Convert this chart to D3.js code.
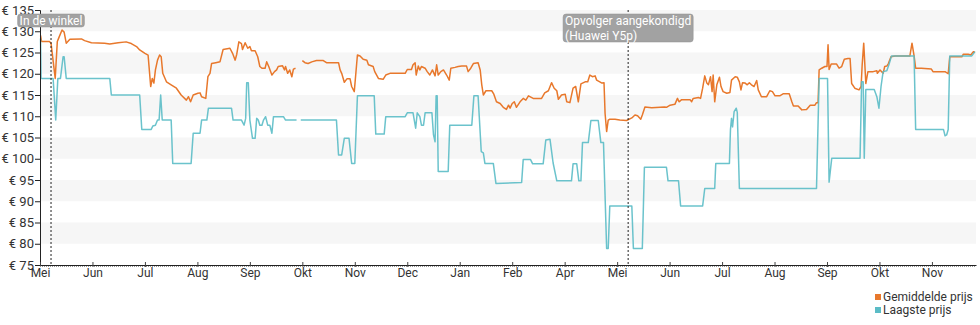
<!DOCTYPE html>
<html><head><meta charset="utf-8">
<script src="https://cdn.jsdelivr.net/npm/d3@7"></script>
<style>body{margin:0;background:#fff;} svg{display:block;font-family:Roboto, "Noto Sans", sans-serif;}</style>
</head><body><svg id="c" width="980" height="325"></svg>
<script>
// month index 0 = "Mei" (first)
const monthLabels = ["Mei","Jun","Jul","Aug","Sep","Okt","Nov","Dec","Jan","Feb","Apr","Mei","Jun","Jul","Aug","Sep","Okt","Nov"];
const priceTicks = [75,80,85,90,95,100,105,110,115,120,125,130,135];
const seriesNames = ["Gemiddelde prijs","Laagste prijs"];
const annotations = [
  {m:0.21, lines:["In de winkel"]},
  {m:11.21, lines:["Opvolger aangekondigd","(Huawei Y5p)"]}
];
// [month, price]
const avgPrice = [
[0.01,129.0],[0.03,127.6],[0.18,127.6],[0.21,127.2],[0.29,118.9],[0.33,127.6],[0.36,128.5],[0.42,130.3],[0.46,129.8],[0.50,127.2],[0.57,128.1],[0.79,128.2],[0.85,127.8],[0.98,127.3],[1.23,127.2],[1.33,127.0],[1.49,127.3],[1.64,127.5],[1.74,127.1],[1.84,126.4],[1.90,125.6],[2.00,124.8],[2.06,124.4],[2.11,117.0],[2.14,118.9],[2.17,117.8],[2.20,120.9],[2.24,123.2],[2.28,124.4],[2.31,124.0],[2.34,120.1],[2.41,118.1],[2.50,117.4],[2.60,116.6],[2.69,115.0],[2.79,113.8],[2.83,114.6],[2.87,113.4],[2.92,115.0],[3.01,115.4],[3.05,115.5],[3.08,114.6],[3.16,114.2],[3.20,119.3],[3.24,120.1],[3.27,122.4],[3.35,122.6],[3.43,122.8],[3.49,125.7],[3.62,126.0],[3.67,124.8],[3.72,123.2],[3.75,124.6],[3.79,127.5],[3.84,127.1],[3.86,125.7],[3.91,127.3],[3.96,126.0],[4.00,126.4],[4.03,125.4],[4.10,125.4],[4.15,124.0],[4.19,121.7],[4.23,121.3],[4.29,121.3],[4.32,122.8],[4.36,121.7],[4.42,119.7],[4.47,120.5],[4.51,120.9],[4.54,121.7],[4.62,121.9],[4.66,120.9],[4.68,121.7],[4.72,120.1],[4.76,120.9],[4.80,119.3],[4.83,121.1],[4.87,121.3],[4.94,null],[5.00,123.1],[5.05,122.6],[5.11,122.4],[5.18,122.8],[5.27,123.1],[5.40,123.1],[5.46,122.6],[5.69,122.6],[5.72,120.9],[5.75,120.1],[5.80,118.0],[5.85,118.8],[5.91,118.8],[5.94,117.0],[5.99,115.8],[6.05,124.4],[6.10,124.2],[6.16,123.4],[6.23,123.2],[6.26,122.1],[6.35,121.7],[6.38,120.5],[6.45,118.9],[6.54,118.7],[6.59,119.7],[6.67,120.1],[6.96,120.1],[7.00,121.0],[7.08,121.0],[7.11,122.1],[7.15,122.6],[7.17,119.7],[7.21,121.8],[7.24,120.9],[7.27,121.7],[7.34,121.3],[7.38,120.5],[7.43,119.7],[7.48,120.9],[7.53,119.5],[7.56,122.1],[7.59,119.7],[7.64,120.5],[7.69,120.9],[7.75,119.7],[7.80,118.5],[7.83,121.3],[7.91,121.5],[7.97,121.7],[8.04,121.8],[8.13,121.8],[8.16,120.5],[8.21,121.3],[8.26,122.4],[8.35,122.6],[8.39,120.9],[8.42,117.4],[8.45,115.0],[8.50,116.0],[8.61,116.0],[8.65,115.2],[8.70,113.4],[8.77,113.0],[8.83,112.1],[8.89,111.6],[8.93,112.6],[8.96,111.9],[9.00,113.0],[9.04,113.4],[9.08,112.1],[9.15,113.4],[9.21,114.2],[9.26,113.8],[9.31,114.8],[9.40,114.2],[9.56,114.2],[9.62,115.5],[9.69,116.0],[9.75,117.9],[9.80,116.6],[9.85,116.0],[9.88,114.0],[9.94,115.0],[10.01,115.2],[10.04,113.4],[10.10,113.2],[10.16,116.6],[10.21,117.0],[10.26,113.4],[10.31,117.6],[10.39,118.1],[10.44,118.1],[10.48,119.7],[10.53,119.3],[10.58,119.5],[10.61,118.5],[10.67,118.1],[10.71,117.8],[10.75,117.9],[10.77,110.7],[10.80,106.4],[10.83,109.1],[10.86,109.3],[10.96,109.3],[11.05,109.1],[11.18,109.0],[11.28,109.6],[11.34,110.3],[11.39,110.1],[11.45,109.3],[11.48,110.3],[11.53,112.2],[11.66,112.0],[11.90,112.2],[11.94,112.1],[12.01,112.6],[12.10,112.8],[12.15,114.2],[12.18,113.4],[12.23,113.9],[12.39,113.9],[12.42,113.4],[12.45,114.2],[12.55,114.4],[12.59,114.2],[12.63,116.6],[12.67,119.5],[12.71,117.8],[12.74,117.4],[12.78,119.3],[12.81,115.8],[12.83,119.7],[12.86,113.4],[12.90,117.4],[12.95,119.2],[12.98,117.0],[13.02,115.8],[13.09,115.4],[13.15,115.6],[13.18,118.5],[13.25,119.3],[13.29,119.2],[13.33,118.1],[13.36,116.2],[13.39,117.9],[13.44,117.8],[13.48,117.4],[13.52,117.9],[13.56,117.4],[13.61,117.0],[13.66,118.4],[13.69,116.2],[13.75,114.6],[13.85,114.6],[13.91,116.0],[13.96,115.8],[14.01,114.8],[14.10,114.8],[14.17,115.3],[14.28,115.3],[14.33,113.4],[14.36,112.4],[14.45,112.4],[14.52,111.5],[14.61,111.6],[14.68,112.6],[14.77,112.6],[14.80,113.2],[14.83,113.2],[14.85,120.9],[14.90,121.3],[14.96,121.7],[15.00,121.7],[15.02,126.8],[15.04,121.0],[15.08,122.3],[15.18,122.3],[15.23,121.3],[15.28,121.7],[15.33,123.4],[15.40,123.6],[15.44,123.6],[15.47,117.7],[15.53,116.6],[15.61,116.2],[15.65,117.0],[15.67,122.0],[15.70,127.2],[15.74,117.7],[15.78,120.5],[15.88,120.5],[15.95,120.7],[15.96,120.1],[16.01,120.9],[16.07,120.1],[16.10,121.7],[16.14,121.8],[16.17,122.4],[16.22,124.0],[16.30,124.2],[16.58,124.2],[16.62,127.2],[16.66,124.2],[16.69,121.3],[16.80,121.3],[16.99,121.1],[17.02,120.5],[17.25,120.5],[17.31,120.0],[17.34,124.0],[17.57,124.0],[17.60,124.6],[17.69,124.6],[17.74,124.4],[17.79,125.2],[17.82,125.0]
];
const lowPrice = [
[0.01,128.3],[0.02,118.9],[0.25,118.9],[0.30,109.1],[0.34,118.9],[0.39,118.9],[0.44,124.0],[0.46,124.0],[0.50,118.9],[1.33,118.9],[1.36,115.0],[1.90,115.0],[1.94,106.9],[2.12,106.9],[2.15,107.7],[2.20,107.9],[2.24,109.1],[2.27,109.1],[2.30,115.0],[2.33,109.1],[2.50,109.1],[2.53,98.9],[2.88,98.9],[2.92,106.0],[3.05,106.0],[3.08,109.1],[3.18,109.1],[3.21,111.9],[3.65,111.9],[3.68,109.1],[3.84,109.1],[3.89,107.9],[3.92,109.5],[3.94,117.9],[3.97,117.9],[4.00,109.1],[4.05,104.8],[4.10,104.8],[4.13,109.5],[4.16,109.1],[4.19,107.9],[4.23,107.9],[4.26,109.1],[4.30,109.9],[4.34,107.9],[4.38,107.9],[4.42,106.0],[4.45,109.9],[4.64,109.9],[4.68,109.1],[4.89,109.1],[4.94,null],[4.97,109.1],[5.65,109.1],[5.69,100.9],[5.75,100.9],[5.80,104.8],[5.89,104.8],[5.94,98.9],[6.00,98.9],[6.05,114.8],[6.37,114.8],[6.40,105.8],[6.56,105.8],[6.59,109.9],[6.96,109.9],[7.00,110.8],[7.11,110.8],[7.16,107.2],[7.19,110.8],[7.24,109.9],[7.27,107.9],[7.31,107.9],[7.34,110.8],[7.47,110.8],[7.50,105.6],[7.53,104.0],[7.55,114.8],[7.57,114.8],[7.59,97.0],[7.78,97.0],[7.81,107.9],[8.23,107.9],[8.27,114.8],[8.35,114.8],[8.41,101.7],[8.45,101.4],[8.48,98.9],[8.64,98.9],[8.69,94.2],[9.18,94.4],[9.21,99.8],[9.35,99.8],[9.39,98.8],[9.59,98.8],[9.64,104.4],[9.72,104.6],[9.78,99.0],[9.85,94.8],[10.13,94.8],[10.16,98.8],[10.23,98.8],[10.27,94.8],[10.31,94.8],[10.34,103.8],[10.45,103.8],[10.50,109.0],[10.64,109.0],[10.69,103.8],[10.74,103.8],[10.80,78.9],[10.83,78.9],[10.86,88.9],[11.28,88.9],[11.31,78.9],[11.48,78.9],[11.52,98.0],[11.94,98.0],[11.97,94.8],[12.17,94.8],[12.21,88.9],[12.63,88.9],[12.67,93.0],[12.86,93.0],[12.88,98.9],[13.14,98.9],[13.16,106.8],[13.18,109.5],[13.20,107.5],[13.23,111.1],[13.27,111.9],[13.29,110.9],[13.33,93.0],[14.80,93.0],[14.85,118.9],[15.01,118.9],[15.04,94.5],[15.09,100.1],[15.63,100.1],[15.66,118.1],[15.69,118.1],[15.71,100.1],[15.74,116.3],[15.90,116.3],[15.95,114.6],[15.99,111.9],[16.03,117.0],[16.07,120.5],[16.14,120.7],[16.18,122.1],[16.23,124.2],[16.66,124.2],[16.69,106.9],[17.22,106.9],[17.25,105.4],[17.28,105.6],[17.31,106.9],[17.34,124.2],[17.76,124.2],[17.82,125.2]
];

const colors = ["#e8782c","#5bbcc6"];
const svg = d3.select("#c");
const W = 980, H = 325;
const margin = {left:40, right:4, top:10, bottom:60};
const x = d3.scaleLinear().domain([0,17.84]).range([margin.left, W - margin.right]);
const y = d3.scaleLinear().domain([75,135]).range([H - margin.bottom, margin.top]);

// bands
const bandG = svg.append("g");
for (let i = 0; i < priceTicks.length - 1; i += 2) {
  const hi = priceTicks[priceTicks.length - 1 - i], lo = priceTicks[priceTicks.length - 2 - i];
  bandG.append("rect").attr("x", x(0)).attr("width", x(17.84) - x(0))
    .attr("y", y(hi)).attr("height", y(lo) - y(hi)).attr("fill", "#f6f6f6");
}

// lines
const line = d3.line().defined(d => d[1] != null).x(d => x(d[0])).y(d => y(d[1]));
svg.append("path").datum(avgPrice).attr("d", line).attr("fill","none")
  .attr("stroke", colors[0]).attr("stroke-width", 1.5).attr("stroke-linejoin","round");
svg.append("path").datum(lowPrice).attr("d", line).attr("fill","none")
  .attr("stroke", colors[1]).attr("stroke-width", 1.5).attr("stroke-linejoin","round").attr("opacity",0.9);

// y axis
const yAxis = d3.axisLeft(y).tickValues(priceTicks).tickSize(5).tickFormat(d => "€ " + d);
const yg = svg.append("g").attr("transform", `translate(${margin.left},0)`).call(yAxis);
yg.select(".domain").attr("stroke", "#222");
yg.selectAll(".tick line").attr("stroke", "#222");
yg.selectAll("text").attr("font-size", 13).attr("fill", "#333").attr("font-family", "Roboto, sans-serif").attr("x", -6);

// x axis
const xAxis = d3.axisBottom(x).tickValues(d3.range(monthLabels.length)).tickSize(0)
  .tickFormat((d, i) => monthLabels[i]);
const xg = svg.append("g").attr("transform", `translate(0,${y(75)})`).call(xAxis);
xg.select(".domain").attr("stroke", "#222");
xg.selectAll("text").attr("font-size", 12).attr("fill", "#333").attr("font-family", "Roboto, sans-serif").attr("dy", "0.95em").attr("y", 1);
xg.selectAll(".tick").append("line").attr("y1", -3).attr("y2", 2).attr("stroke", "#444");
svg.append("line").attr("x1", x(0)).attr("x2", x(17.84)).attr("y1", y(75) + 1.5).attr("y2", y(75) + 1.5)
  .attr("stroke", "#999").attr("stroke-dasharray", "1,1").attr("stroke-width", 1);

// annotations (drawn above the axes, as in the reference)
annotations.forEach(a => {
  const ax = x(a.m);
  svg.append("line").attr("x1", ax).attr("x2", ax).attr("y1", y(135)).attr("y2", y(75))
    .attr("stroke", "#222").attr("stroke-width", 1).attr("stroke-dasharray", "2,2");
  const g = svg.append("g");
  const texts = a.lines.map((t, i) => g.append("text").attr("x", 0).attr("y", i * 15)
    .attr("fill", "#fff").attr("font-size", 12).text(t));
  const wMax = d3.max(texts, t => t.node().getComputedTextLength());
  const bw = wMax + 4, bh = a.lines.length * 15 - 2;
  const bx = ax - bw / 2, by = 14;
  g.insert("rect", "text").attr("x", -2).attr("y", -11).attr("width", bw).attr("height", bh)
    .attr("rx", 3).attr("fill", "#a2a2a2").attr("stroke", "#8f8f8f").attr("stroke-width", 0.5);
  g.attr("transform", `translate(${bx + 2},${by + 11})`);
});

// legend
const lg = svg.append("g").attr("transform", `translate(875,297)`);
seriesNames.forEach((n, i) => {
  lg.append("rect").attr("x", 0).attr("y", i * 13 - 3).attr("width", 6).attr("height", 6).attr("fill", colors[i]);
  lg.append("text").attr("x", 8).attr("y", i * 13 + 4).attr("font-size", 12).attr("fill", "#333").text(n);
});
</script></body></html>
